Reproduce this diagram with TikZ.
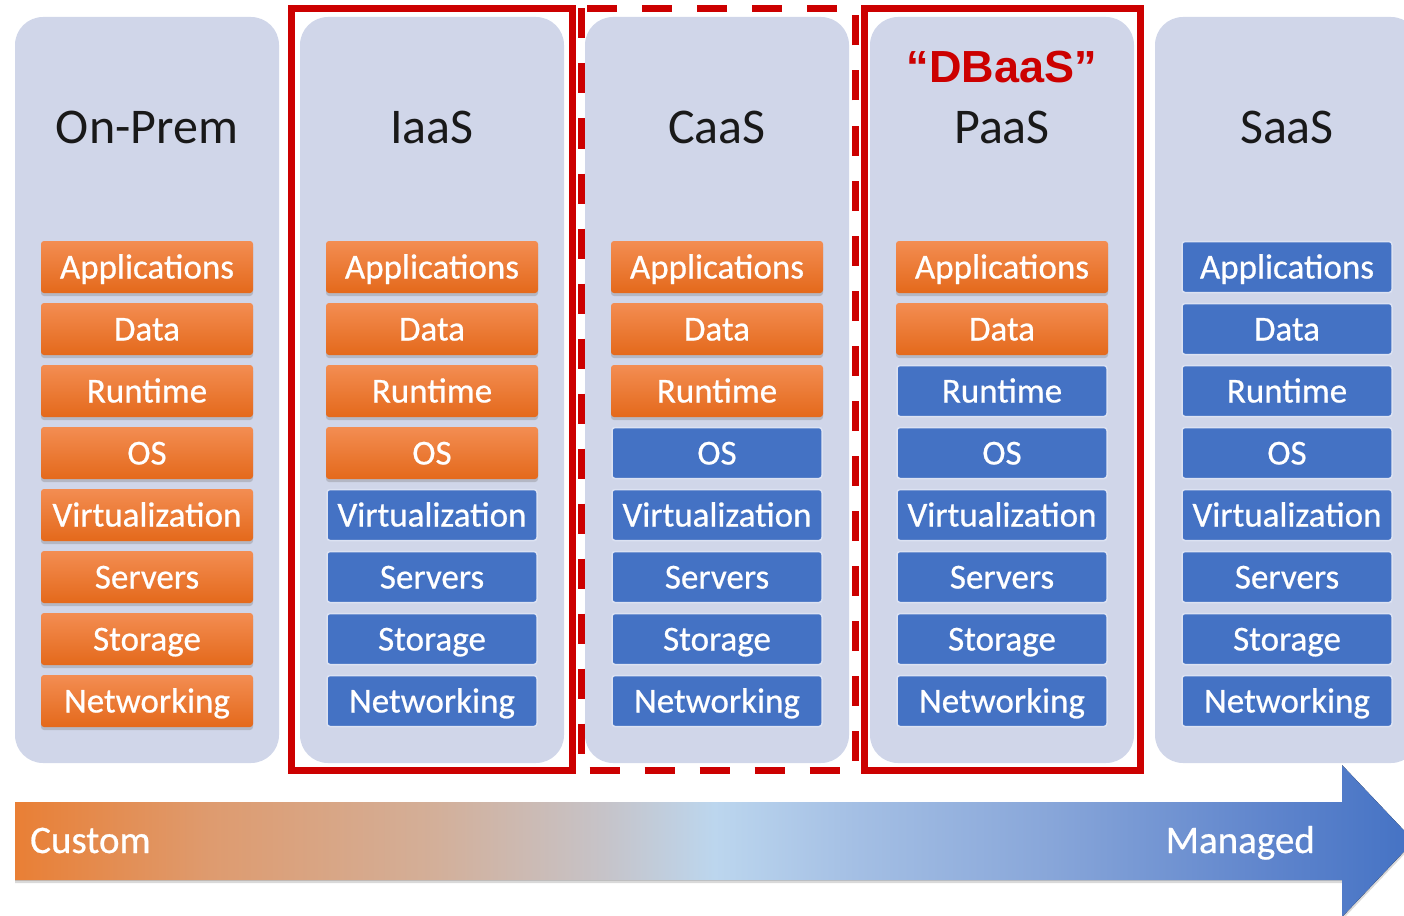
\documentclass[tikz,border=0pt]{standalone}
\usepackage{fontspec}
\setmainfont{Carlito}
\newfontfamily\dbfont{Liberation Sans}
\newfontfamily\boxfont{Carlito}[FakeBold=0.6]
\usepackage{tikz}
\usetikzlibrary{shadows,positioning}

\definecolor{panelbg}{HTML}{D0D6E9}
\definecolor{orgtop}{HTML}{F38D52}
\definecolor{orgbot}{HTML}{E4691B}
\definecolor{bluebox}{HTML}{4472C4}
\definecolor{blueedge}{HTML}{DCE2F2}
\definecolor{redframe}{HTML}{CC0000}
\definecolor{gr0}{HTML}{E97F35}
\definecolor{gr1}{HTML}{DE9B6F}
\definecolor{gr2}{HTML}{D3AF99}
\definecolor{gr3}{HTML}{C6C3C8}
\definecolor{gr4}{HTML}{BCD6EE}
\definecolor{gr5}{HTML}{A4BFE4}
\definecolor{gr6}{HTML}{88A6D9}
\definecolor{gr7}{HTML}{5E84CC}
\definecolor{gr8}{HTML}{4472C4}
\pgfdeclarehorizontalshading{custman}{100bp}{color(0bp)=(gr0); color(25bp)=(gr0);
  color(32bp)=(gr1); color(40bp)=(gr2); color(46bp)=(gr3); color(50bp)=(gr4);
  color(55bp)=(gr5); color(62bp)=(gr6); color(70bp)=(gr7); color(75bp)=(gr8);
  color(100bp)=(gr8)}

\begin{document}
\begin{tikzpicture}[x=1pt,y=-1pt]

        \tikzstyle{panel}=[rectangle,rounded corners=28pt,fill=panelbg,draw=none,minimum width=264pt,minimum height=746pt,inner sep=0pt]
        \tikzstyle{title}=[anchor=base,text=black!90,font=\fontsize{50}{56}\selectfont,inner sep=0pt]
        \tikzstyle{own}=[rectangle,rounded corners=3pt,minimum width=212pt,minimum height=52pt,top color=orgtop,bottom color=orgbot,text=white,font=\boxfont\fontsize{35}{40}\selectfont,text height=23pt,text depth=0pt,inner sep=0pt,drop shadow={opacity=.35,shadow xshift=0pt,shadow yshift=-3pt}]
        \tikzstyle{managed}=[rectangle,rounded corners=3pt,minimum width=210pt,minimum height=51pt,fill=bluebox,draw=blueedge,line width=1.5pt,text=white,font=\boxfont\fontsize{35}{40}\selectfont,text height=23pt,text depth=0pt,inner sep=0pt]
        \tikzstyle{frame}=[draw=redframe,line width=7pt]

        \useasboundingbox (0,0) rectangle (1404,915);
        \clip (0,0) rectangle (1404,915);

        % columns
        \node[panel] (P1) at (147,390) {};
        \node[panel] (P2) at (432,390) {};
        \node[panel] (P3) at (717,390) {};
        \node[panel] (P4) at (1002,390) {};
        \node[panel] (P5) at (1287,390) {};

        \node[title] (T1) at (147,143) {On-Prem};
        \node[title] (T2) at (432,143) {IaaS};
        \node[title] (T3) at (717,143) {CaaS};
        \node[title] (T4) at (1002,143) {PaaS};
        \node[title] (T5) at (1287,143) {SaaS};
        \node[anchor=base,inner sep=0pt,text=redframe,font=\dbfont\bfseries\fontsize{45}{50}\selectfont] (DB) at (1002,83) {“DBaaS”};

        % On-Prem
        \node[own] (A1) at (147,267) {Applications};
        \node[own] (D1) at (147,329) {Data};
        \node[own] (R1) at (147,391) {Runtime};
        \node[own] (O1) at (147,453) {OS};
        \node[own] (V1) at (147,515) {Virtualization};
        \node[own] (S1) at (147,577) {Servers};
        \node[own] (G1) at (147,639) {Storage};
        \node[own] (N1) at (147,701) {Networking};

        % IaaS
        \node[own] (A2) at (432,267) {Applications};
        \node[own] (D2) at (432,329) {Data};
        \node[own] (R2) at (432,391) {Runtime};
        \node[own] (O2) at (432,453) {OS};
        \node[managed] (V2) at (432,515) {Virtualization};
        \node[managed] (S2) at (432,577) {Servers};
        \node[managed] (G2) at (432,639) {Storage};
        \node[managed] (N2) at (432,701) {Networking};

        % CaaS
        \node[own] (A3) at (717,267) {Applications};
        \node[own] (D3) at (717,329) {Data};
        \node[own] (R3) at (717,391) {Runtime};
        \node[managed] (O3) at (717,453) {OS};
        \node[managed] (V3) at (717,515) {Virtualization};
        \node[managed] (S3) at (717,577) {Servers};
        \node[managed] (G3) at (717,639) {Storage};
        \node[managed] (N3) at (717,701) {Networking};

        % PaaS
        \node[own] (A4) at (1002,267) {Applications};
        \node[own] (D4) at (1002,329) {Data};
        \node[managed] (R4) at (1002,391) {Runtime};
        \node[managed] (O4) at (1002,453) {OS};
        \node[managed] (V4) at (1002,515) {Virtualization};
        \node[managed] (S4) at (1002,577) {Servers};
        \node[managed] (G4) at (1002,639) {Storage};
        \node[managed] (N4) at (1002,701) {Networking};

        % SaaS
        \node[managed] (A5) at (1287,267) {Applications};
        \node[managed] (D5) at (1287,329) {Data};
        \node[managed] (R5) at (1287,391) {Runtime};
        \node[managed] (O5) at (1287,453) {OS};
        \node[managed] (V5) at (1287,515) {Virtualization};
        \node[managed] (S5) at (1287,577) {Servers};
        \node[managed] (G5) at (1287,639) {Storage};
        \node[managed] (N5) at (1287,701) {Networking};

        % red frames
        \draw[frame] (291.5,8.5) rectangle (572.5,770);
        \draw[frame,dash pattern=on 30pt off 25pt] (581,8.5) rectangle (855,770);
        \draw[frame] (864,8.5) rectangle (1140,770);

        % custom -> managed arrow
        \fill[shading=custman,drop shadow={opacity=.3,shadow xshift=0pt,shadow yshift=-3pt}]
          (15,802) -- (1342,802) -- (1342,765) -- (1414,841) -- (1342,917) -- (1342,880) -- (15,880) -- cycle;
        \node[anchor=base west,inner sep=0pt,text=white,font=\boxfont\fontsize{39}{44}\selectfont] (C) at (30,853) {Custom};
        \node[anchor=base east,inner sep=0pt,text=white,font=\boxfont\fontsize{39}{44}\selectfont] (M) at (1315,853) {Managed};

      \end{tikzpicture}
\end{document}
